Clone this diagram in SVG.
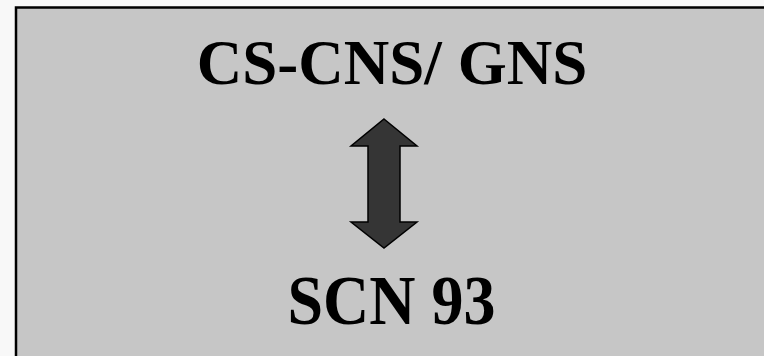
<svg xmlns="http://www.w3.org/2000/svg" width="764" height="356" viewBox="0 0 764 356">
<style>
.t{font-family:"Liberation Serif","Times New Roman",serif;font-weight:bold;fill:#000;text-anchor:middle}
</style>
<rect x="0" y="0" width="764" height="356" fill="#f8f8f8"/>
<g id="panel"><rect x="16" y="7.5" width="760" height="360" fill="#c6c6c6" stroke="#000" stroke-width="2.5"/></g>
<g id="top"><text class="t" x="392" y="84" font-size="63">CS-CNS/ GNS</text></g>
<g id="connectors"><polygon points="384,119 417,146 400,146 400,222 417,222 384,248 351,222 368,222 368,146 351,146" fill="#353535" stroke="#000" stroke-width="1.5" stroke-linejoin="miter"/></g>
<g id="bottom"><text class="t" transform="translate(391.5,323.5) scale(1,1.1)" x="0" y="0" font-size="64">SCN 93</text></g>
</svg>
